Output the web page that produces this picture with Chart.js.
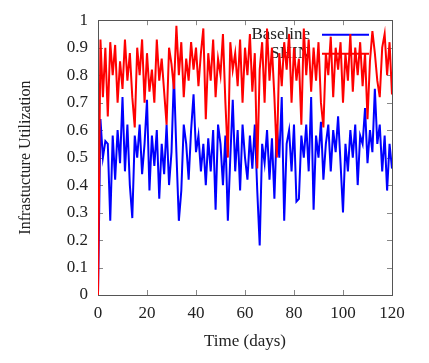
<!DOCTYPE html>
<html>
<head>
<meta charset="utf-8">
<script src="https://cdn.jsdelivr.net/npm/chart.js@4/dist/chart.umd.min.js"></script>
<style>
html,body{margin:0;padding:0;background:#fff;}
#wrap{width:429px;height:363px;}
</style>
</head>
<body>
<div id="wrap"><canvas id="c" width="429" height="363"></canvas></div>
<script>
const days = [];
for (let d = 0; d <= 120; d++) days.push(d);

const baseline = [
0.00,0.64,0.50,0.56,0.55,0.27,0.58,0.42,0.60,0.48,
0.72,0.45,0.62,0.40,0.28,0.58,0.50,0.62,0.44,0.55,
0.71,0.38,0.58,0.47,0.60,0.35,0.55,0.44,0.62,0.40,
0.52,0.80,0.52,0.27,0.38,0.62,0.55,0.42,0.60,0.73,
0.52,0.58,0.45,0.55,0.40,0.57,0.45,0.60,0.31,0.62,
0.55,0.40,0.58,0.27,0.50,0.71,0.45,0.60,0.38,0.62,
0.50,0.42,0.58,0.46,0.62,0.38,0.18,0.55,0.48,0.60,
0.42,0.57,0.35,0.62,0.50,0.72,0.27,0.55,0.60,0.45,
0.62,0.34,0.35,0.58,0.50,0.62,0.45,0.72,0.31,0.58,
0.50,0.63,0.42,0.55,0.62,0.45,0.60,0.52,0.65,0.48,
0.30,0.55,0.45,0.60,0.50,0.62,0.40,0.58,0.55,0.68,
0.48,0.60,0.52,0.75,0.55,0.62,0.45,0.58,0.38,0.55,
0.46];

const shin = [
0.00,0.93,0.72,0.90,0.65,0.92,0.80,0.91,0.70,0.85,
0.75,0.93,0.78,0.88,0.72,0.61,0.90,0.80,0.93,0.70,
0.88,0.74,0.82,0.70,0.93,0.78,0.86,0.74,0.62,0.90,
0.84,0.75,0.98,0.80,0.92,0.72,0.86,0.78,0.92,0.82,
0.90,0.76,0.88,0.97,0.64,0.88,0.78,0.93,0.72,0.86,
0.80,0.95,0.70,0.50,0.92,0.82,0.88,0.76,0.93,0.70,
0.90,0.80,0.95,0.74,0.88,0.46,0.82,0.92,0.70,0.97,
0.78,0.90,0.72,0.50,0.88,0.76,0.92,0.82,0.95,0.70,
0.90,0.78,0.86,0.62,0.97,0.80,0.93,0.74,0.90,0.78,
0.92,0.70,0.61,0.88,0.80,0.94,0.72,0.90,0.82,0.92,
0.70,0.88,0.78,0.95,0.74,0.90,0.80,0.92,0.76,0.88,
0.64,0.85,0.96,0.88,0.78,0.72,0.90,0.95,0.80,0.92,
0.73];

const xTicks = [0,20,40,60,80,100,120];
const yTicks = [0,0.1,0.2,0.3,0.4,0.5,0.6,0.7,0.8,0.9,1];
const seriesNames = ['Baseline','SHIN'];
const seriesColors = ['#0000ff','#ff0000'];

const SERIF = '"Liberation Serif","Times New Roman",serif';

const framePlugin = {
  id: 'frame',
  beforeDatasetsDraw(chart) {
    const ctx = chart.ctx;
    const a = chart.chartArea;
    const xs = chart.scales.x, ys = chart.scales.y;
    ctx.save();
    ctx.strokeStyle = '#888';
    ctx.lineWidth = 1;
    ctx.beginPath();
    xTicks.forEach(v => {
      const px = Math.round(xs.getPixelForValue(v)) + 0.5;
      ctx.moveTo(px, a.bottom); ctx.lineTo(px, a.bottom - 5);
      ctx.moveTo(px, a.top); ctx.lineTo(px, a.top + 5);
    });
    yTicks.forEach(v => {
      const py = Math.round(ys.getPixelForValue(v)) + 0.5;
      ctx.moveTo(a.left, py); ctx.lineTo(a.left + 5, py);
      ctx.moveTo(a.right, py); ctx.lineTo(a.right - 5, py);
    });
    ctx.stroke();
    ctx.strokeStyle = '#555';
    ctx.strokeRect(Math.round(a.left) + 0.5, Math.round(a.top) + 0.5,
                   Math.round(a.right - a.left), Math.round(a.bottom - a.top));
    // key
    ctx.font = '17px ' + SERIF;
    ctx.textAlign = 'right';
    ctx.textBaseline = 'middle';
    const kx = a.right - 82, ky = a.top + 14;
    seriesNames.forEach((n, i) => {
      const y = ky + i * 19;
      ctx.fillStyle = '#222';
      ctx.fillText(n, kx, y);
      ctx.strokeStyle = seriesColors[i];
      ctx.lineWidth = 2;
      ctx.beginPath();
      ctx.moveTo(kx + 12, y + 0.5);
      ctx.lineTo(kx + 59, y + 0.5);
      ctx.stroke();
    });
    ctx.restore();
  }
};

new Chart(document.getElementById('c'), {
  type: 'line',
  data: {
    datasets: [
      {
        label: seriesNames[0],
        data: days.map((d, i) => ({x: d, y: baseline[i]})),
        borderColor: seriesColors[0],
        borderWidth: 2,
        pointRadius: 0,
        tension: 0,
        fill: false,
        order: 1
      },
      {
        label: seriesNames[1],
        data: days.map((d, i) => ({x: d, y: shin[i]})),
        borderColor: seriesColors[1],
        borderWidth: 2,
        pointRadius: 0,
        tension: 0,
        fill: false,
        order: 0
      }
    ]
  },
  options: {
    responsive: false,
    animation: false,
    layout: {padding: {left: 0, right: 37, top: 20, bottom: 0}},
    plugins: {legend: {display: false}, tooltip: {enabled: false}},
    scales: {
      x: {
        type: 'linear', min: 0, max: 120,
        afterBuildTicks(s) { s.ticks = xTicks.map(v => ({value: v})); },
        afterFit(s) { s.height = 68; },
        grid: {display: false, drawTicks: false},
        border: {display: false},
        ticks: {color: '#222', font: {family: SERIF, size: 17}, padding: 8, maxRotation: 0},
        title: {display: true, text: 'Time (days)', color: '#222',
                font: {family: SERIF, size: 17}, padding: {top: 0, bottom: 11}}
      },
      y: {
        type: 'linear', min: 0, max: 1,
        afterBuildTicks(s) { s.ticks = yTicks.map(v => ({value: v})); },
        afterFit(s) { s.width = 98; },
        grid: {display: false, drawTicks: false},
        border: {display: false},
        ticks: {color: '#222', font: {family: SERIF, size: 17}, padding: 10,
                callback: v => String(Math.round(v * 10) / 10)},
        title: {display: true, text: 'Infrastucture Utilization', color: '#222',
                font: {family: SERIF, size: 16}, padding: {top: 16, bottom: 16}}
      }
    }
  },
  plugins: [framePlugin]
});
</script>
</body>
</html>
